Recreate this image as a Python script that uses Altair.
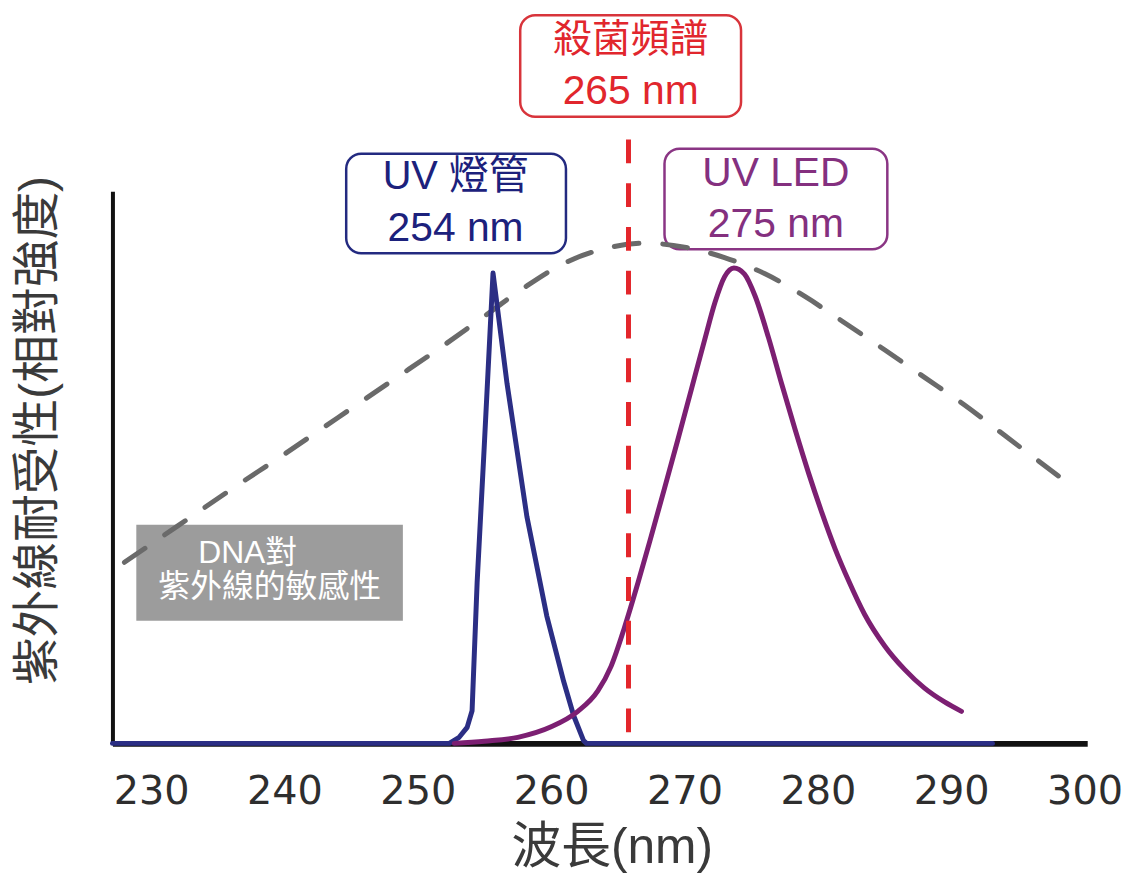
import altair as alt
import pandas as pd

FONT = "Liberation Sans, Noto Sans CJK TC, sans-serif"
TICK_FONT = "DejaVu Sans"

# ---- data ----
x_ticks = [230, 240, 250, 260, 270, 280, 290, 300]

# DNA sensitivity to UV (dashed grey curve)
dna_nm = [228.0, 232.0, 236.0, 240.0, 244.0, 248.0, 252.0, 255.0, 258.0, 261.0,
          264.0, 267.0, 270.0, 273.0, 276.0, 279.0, 282.0, 285.0, 288.0, 291.0,
          294.0, 298.45]
dna_val = [0.328, 0.394, 0.460, 0.524, 0.590, 0.656, 0.722, 0.774, 0.826, 0.870,
           0.896, 0.906, 0.899, 0.880, 0.851, 0.810, 0.762, 0.713, 0.663, 0.613,
           0.558, 0.477]

# UV lamp spectrum (navy)
lamp_nm = [227.1, 252.36, 253.10, 253.70, 254.07, 254.45, 254.97, 255.64, 256.69, 258.18,
           259.67, 260.94, 261.69, 262.43, 262.65, 293.1]
lamp_val = [0, 0, 0.011, 0.029, 0.059, 0.292, 0.532, 0.852, 0.652, 0.411,
            0.231, 0.112, 0.050, 0.005, 0, 0]

# UV LED spectrum (purple)
led_nm = [252.73, 255.0, 257.5, 260.0, 262.0, 263.5, 264.5, 265.5, 266.5, 267.5,
          268.5, 269.5, 270.5, 271.5, 272.3, 273.0, 273.7, 274.5, 275.3, 276.3,
          277.3, 278.3, 279.3, 280.3, 281.3, 282.3, 283.5, 285.0, 286.5, 288.0,
          289.5, 290.77]
led_val = [0, 0.004, 0.011, 0.030, 0.058, 0.095, 0.140, 0.210, 0.290, 0.375,
           0.462, 0.550, 0.640, 0.730, 0.800, 0.845, 0.861, 0.850, 0.810, 0.735,
           0.650, 0.568, 0.490, 0.418, 0.352, 0.295, 0.234, 0.177, 0.134, 0.100,
           0.075, 0.058]

# germicidal marker
germ_nm = [265.8]

# annotation boxes and labels
box_key = ["germ", "lamp", "led"]
box_x0 = [257.68, 244.63, 268.50]
box_x1 = [274.24, 261.11, 285.21]
box_y0 = [1.319, 1.068, 1.077]
box_y1 = [1.135, 0.888, 0.895]
box_color = ["#d8343b", "#232a80", "#8a3584"]

lab_text = ["殺菌頻譜", "265 nm", "UV 燈管", "254 nm", "UV LED", "275 nm"]
lab_x = [265.96, 265.96, 252.83, 252.83, 276.85, 276.85]
lab_y = [1.274, 1.180, 1.025, 0.932, 1.032, 0.939]
lab_color = ["#e1262d", "#e1262d", "#1c217c", "#1c217c", "#84307f", "#84307f"]
lab_size = [39, 41, 40, 41, 41, 41]

dna_box = {"x0": [228.89], "x1": [248.88], "y0": [0.396], "y1": [0.222]}
dna_lab_text = ["DNA對", "紫外線的敏感性"]
dna_lab_x = [237.24, 238.89]
dna_lab_y = [0.344, 0.283]

# ---- chart ----
x_scale = alt.Scale(domain=[227.1, 300.2], nice=False, zero=False)
y_scale = alt.Scale(domain=[0, 1], nice=False, zero=False)

x_axis = alt.Axis(
    values=x_ticks, title="波長(nm)", grid=False, ticks=False, tickSize=0,
    labelFont=TICK_FONT, labelFontSize=40, labelColor="#2e2e2e", labelPadding=28,
    labelBaseline="top",
    domainColor="#111111", domainWidth=6,
    titleFont=FONT, titleFontSize=50, titleFontWeight="normal", titleColor="#3a3a3a",
    titleX=502, titleY=105, titleBaseline="middle", titleAlign="center",
)
y_axis = alt.Axis(
    title="紫外線耐受性(相對強度)", grid=False, ticks=False, tickSize=0, labels=False,
    domainColor="#111111", domainWidth=4,
    titleFont=FONT, titleFontSize=48, titleFontWeight="normal", titleColor="#3a3a3a",
    titleX=-74, titleY=240, titleAngle=270, titleBaseline="middle", titleAlign="center",
)

X = lambda f: alt.X(f, type="quantitative", scale=x_scale, axis=x_axis)
Y = lambda f: alt.Y(f, type="quantitative", scale=y_scale, axis=y_axis)

dna_df = pd.DataFrame({"nm": dna_nm, "v": dna_val})
lamp_df = pd.DataFrame({"nm": lamp_nm, "v": lamp_val})
led_df = pd.DataFrame({"nm": led_nm, "v": led_val})
germ_df = pd.DataFrame({"nm": germ_nm, "top": [1.094], "bot": [0.014]})
box_df = pd.DataFrame({"k": box_key, "x0": box_x0, "x1": box_x1, "y0": box_y0,
                       "y1": box_y1, "c": box_color})
lab_df = pd.DataFrame({"t": lab_text, "nm": lab_x, "v": lab_y, "c": lab_color, "s": lab_size})
dbox_df = pd.DataFrame(dna_box)
dlab_df = pd.DataFrame({"t": dna_lab_text, "nm": dna_lab_x, "v": dna_lab_y})

gray_box = alt.Chart(dbox_df).mark_rect(color="#9c9c9c").encode(
    x=X("x0"), x2="x1", y=Y("y0"), y2="y1")
gray_text = alt.Chart(dlab_df).mark_text(
    font=FONT, fontSize=32, color="white", align="center", baseline="middle"
).encode(x=X("nm"), y=Y("v"), text="t:N")

boxes = alt.Chart(box_df).mark_rect(
    cornerRadius=15, fillOpacity=0, strokeWidth=2.5
).encode(x=X("x0"), x2="x1", y=Y("y0"), y2="y1",
         stroke=alt.Stroke("c:N", scale=None))

dna_line = alt.Chart(dna_df).mark_line(
    color="#6a6a6a", strokeWidth=5, strokeDash=[25, 24], strokeCap="round",
    interpolate="monotone"
).encode(x=X("nm"), y=Y("v"))

lamp_line = alt.Chart(lamp_df).mark_line(
    color="#2b2e84", strokeWidth=5, strokeJoin="round", strokeCap="round"
).encode(x=X("nm"), y=Y("v"))

led_line = alt.Chart(led_df).mark_line(
    color="#7c1f72", strokeWidth=5, strokeCap="round", interpolate="monotone"
).encode(x=X("nm"), y=Y("v"))

germ_rule = alt.Chart(germ_df).mark_rule(
    color="#e3262b", strokeWidth=5, strokeDash=[24, 20]
).encode(x=X("nm"), y=Y("top"), y2="bot")

labels = alt.Chart(lab_df).mark_text(
    font=FONT, align="center", baseline="middle"
).encode(x=X("nm"), y=Y("v"), text="t:N",
         color=alt.Color("c:N", scale=None),
         size=alt.Size("s:Q", scale=None))

chart = alt.layer(
    gray_box, gray_text, boxes, dna_line, lamp_line, led_line, germ_rule, labels
).properties(
    width=980, height=555,
    padding={"left": 105, "top": 182, "right": 40, "bottom": 130},
    autosize=alt.AutoSizeParams(type="none"),
).configure(background="white").configure_view(stroke=None)

chart.save("out.html", embed_options={"renderer": "svg", "actions": False})
